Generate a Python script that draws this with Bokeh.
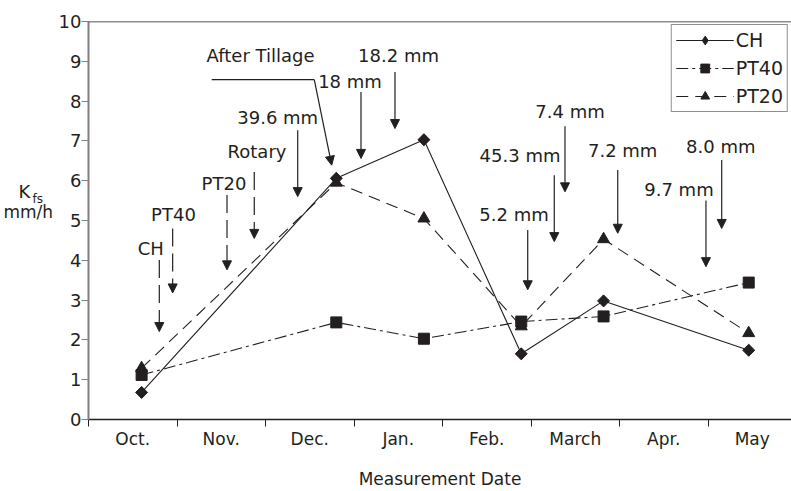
import math
from bokeh.plotting import figure
from bokeh.layouts import row
from bokeh.models import (Range1d, FixedTicker, Arrow, NormalHead, Label, Span,
                          Legend, LegendItem, CustomJSTickFormatter)
from bokeh.core.properties import value
from bokeh.embed import file_html
from bokeh.resources import INLINE

# ---------------- data ----------------
months = ["Oct.", "Nov.", "Dec.", "Jan.", "Feb.", "March", "Apr.", "May"]
# measurement dates in month units (Oct. = 0..1, Nov. = 1..2, ...)
dates = [0.60, 2.80, 3.79, 4.89, 5.82, 7.46]
ch = [0.68, 6.06, 7.03, 1.65, 2.98, 1.74]
pt40 = [1.12, 2.44, 2.03, 2.46, 2.59, 3.44]
pt20 = [1.29, 5.95, 5.05, 2.34, 4.53, 2.17]
y_ticks = list(range(11))

# annotations: text, text position, arrow start, arrow end, dashed?
notes = [
    ("18 mm", (2.955, 8.50), (3.079, 8.23), (3.079, 6.56), False),
    ("18.2 mm", (3.503, 9.15), (3.463, 8.73), (3.463, 7.31), False),
    ("39.6 mm", (2.138, 7.60), (2.364, 7.27), (2.364, 5.60), False),
    ("Rotary", (1.904, 6.74), (1.873, 6.22), (1.873, 4.55), True),
    ("PT20", (1.531, 5.94), (1.565, 5.64), (1.565, 3.76), True),
    ("PT40", (0.960, 5.16), (0.951, 4.80), (0.951, 3.18), True),
    ("CH", (0.703, 4.29), (0.800, 4.01), (0.800, 2.21), True),
    ("7.4 mm", (5.441, 7.75), (5.384, 7.37), (5.384, 5.72), False),
    ("45.3 mm", (4.876, 6.64), (5.263, 6.14), (5.263, 4.47), False),
    ("7.2 mm", (6.036, 6.77), (5.980, 6.27), (5.980, 4.68), False),
    ("8.0 mm", (7.144, 6.85), (7.155, 6.52), (7.155, 4.80), False),
    ("9.7 mm", (6.672, 5.79), (6.977, 5.50), (6.977, 3.84), False),
    ("5.2 mm", (4.808, 5.16), (4.963, 4.76), (4.963, 3.26), False),
]
after_tillage_text = (1.944, 9.15)
after_tillage_path = [(1.392, 8.54), (2.551, 8.54), (2.748, 6.39)]

C = "#231f20"
FONT = "DejaVu Sans"

LEFT_W = 53
MAIN_W = 791 - LEFT_W
H = 491
BORDER_L = 88 - LEFT_W
FRAME_W = MAIN_W - BORDER_L

# ---------- y-axis title panel (K_fs / mm/h) ----------
lp = figure(width=LEFT_W, height=H, x_range=Range1d(0, LEFT_W), y_range=Range1d(0, H),
            output_backend="svg", toolbar_location=None, x_axis_type=None, y_axis_type=None,
            min_border=0, min_border_left=0, min_border_right=0, min_border_top=0,
            min_border_bottom=0)
lp.outline_line_color = None
lp.xgrid.visible = False
lp.ygrid.visible = False
lp.text(x=[18], y=[H - 210], text=["K"], text_font=value(FONT), text_font_size="18px",
        text_color=C, text_align="left", text_baseline="middle")
lp.text(x=[32], y=[H - 219], text=["fs"], text_font=value(FONT), text_font_size="12px",
        text_color=C, text_align="left", text_baseline="middle")
lp.text(x=[52.5], y=[H - 235], text=["mm/h"], text_font=value(FONT), text_font_size="17px",
        text_color=C, text_align="right", text_baseline="middle")

# ---------- main plot ----------
p = figure(width=MAIN_W, height=H, x_range=Range1d(0, FRAME_W / 88.5), y_range=Range1d(0, 10),
           output_backend="svg", toolbar_location=None,
           min_border_left=BORDER_L, min_border_right=0, min_border_top=21, min_border_bottom=71)
p.xgrid.visible = False
p.ygrid.visible = False
p.outline_line_color = None
p.background_fill_color = "white"

# x axis
p.xaxis.ticker = FixedTicker(ticks=[i + 0.5 for i in range(8)], minor_ticks=list(range(9)))
p.xaxis.formatter = CustomJSTickFormatter(args=dict(labels=months), code="return labels[index];")
p.xaxis.major_tick_line_color = None
p.xaxis.major_tick_out = 0
p.xaxis.major_tick_in = 0
p.xaxis.minor_tick_line_color = C
p.xaxis.minor_tick_out = 7
p.xaxis.minor_tick_in = 0
p.xaxis.axis_line_color = C
p.xaxis.axis_line_width = 1.5
p.xaxis.major_label_standoff = 2
p.xaxis.major_label_text_font = FONT
p.xaxis.major_label_text_font_size = "17px"
p.xaxis.major_label_text_color = C
p.xaxis.axis_label = "Measurement Date"
p.xaxis.axis_label_standoff = 17
p.xaxis.axis_label_text_font = FONT
p.xaxis.axis_label_text_font_size = "17px"
p.xaxis.axis_label_text_font_style = "normal"
p.xaxis.axis_label_text_color = C

# y axis
p.yaxis.ticker = FixedTicker(ticks=y_ticks)
p.yaxis.axis_line_color = "#808080"
p.yaxis.axis_line_width = 2
p.yaxis.major_tick_line_color = "#808080"
p.yaxis.major_tick_out = 7
p.yaxis.major_tick_in = 0
p.yaxis.minor_tick_line_color = None
p.yaxis.major_label_standoff = 0
p.yaxis.major_label_text_font = FONT
p.yaxis.major_label_text_font_size = "18px"
p.yaxis.major_label_text_color = C

# top border
p.add_layout(Span(location=10, dimension="width", line_color=C, line_width=1.5))

# series
r1 = p.line(dates, ch, line_color=C, line_width=1.1)
r1d = p.scatter(dates, ch, marker="diamond", size=11, color=C)          # legend symbol
r1m = p.scatter(dates, ch, marker="square", angle=math.pi / 4, size=8.5, color=C)
r2 = p.line(dates, pt40, line_color=C, line_width=1.1, line_dash="12 4 3 4")
r2m = p.scatter(dates, pt40, marker="square", size=11, color=C)
r3 = p.line(dates, pt20, line_color=C, line_width=1.1, line_dash="12 7")
r3m = p.scatter(dates, pt20, marker="triangle", size=12, color=C)

# annotations
for text, (tx, ty), (x0, y0), (x1, y1), dashed in notes:
    p.add_layout(Label(x=tx, y=ty, text=text, text_font=FONT, text_font_size="18px",
                       text_color=C, text_align="center", text_baseline="middle"))
    p.add_layout(Arrow(x_start=x0, y_start=y0, x_end=x1, y_end=y1,
                       line_color=C, line_width=1.2,
                       line_dash="18 7" if dashed else "solid",
                       end=NormalHead(size=9, fill_color=C, line_color=C, line_width=1)))

p.add_layout(Label(x=after_tillage_text[0], y=after_tillage_text[1], text="After Tillage",
                   text_font=FONT, text_font_size="18px", text_color=C,
                   text_align="center", text_baseline="middle"))
(a0, b0), (a1, b1), (a2, b2) = after_tillage_path
p.add_layout(Arrow(x_start=a0, y_start=b0, x_end=a1, y_end=b1, end=None,
                   line_color=C, line_width=1.2))
p.add_layout(Arrow(x_start=a1, y_start=b1, x_end=a2, y_end=b2, line_color=C, line_width=1.2,
                   end=NormalHead(size=9, fill_color=C, line_color=C, line_width=1)))

legend = Legend(items=[LegendItem(label="CH", renderers=[r1, r1d]),
                       LegendItem(label="PT40", renderers=[r2, r2m]),
                       LegendItem(label="PT20", renderers=[r3, r3m])])
legend.location = "top_right"
legend.margin = 3
legend.padding = 4
legend.spacing = 6
legend.glyph_width = 58
legend.glyph_height = 22
legend.label_height = 22
legend.label_standoff = 2
legend.label_text_font = FONT
legend.label_text_font_size = "19px"
legend.label_text_color = C
legend.border_line_color = C
legend.border_line_width = 1
legend.background_fill_color = "white"
legend.background_fill_alpha = 1
p.add_layout(legend)

layout = row(lp, p)
open("out.html", "w").write(file_html(layout, INLINE))
